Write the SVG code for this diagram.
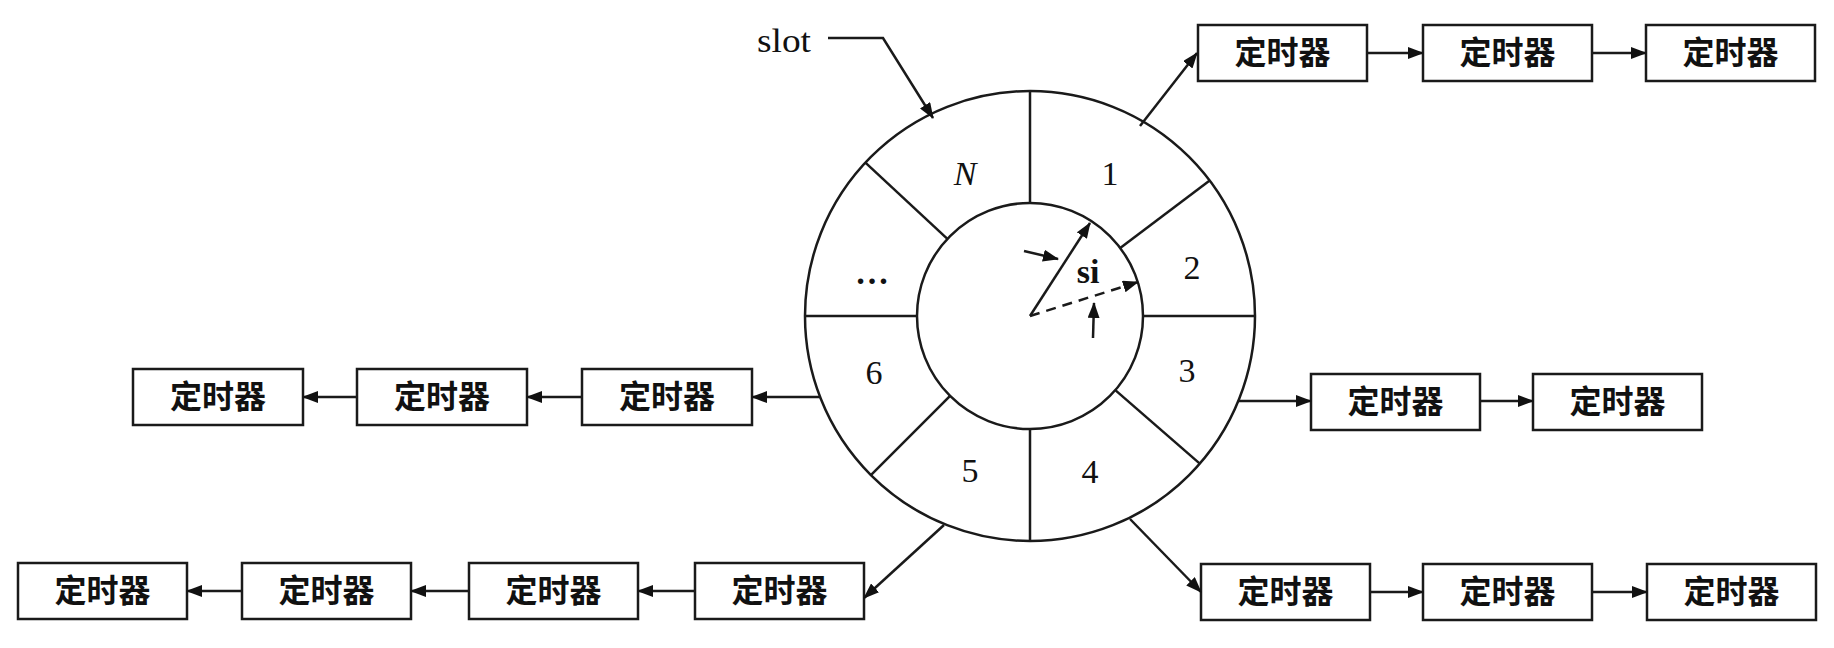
<svg xmlns="http://www.w3.org/2000/svg" width="1834" height="648" viewBox="0 0 1834 648">
<style>
.ln{stroke:#1a1a1a;stroke-width:2.5;fill:none}
.box{stroke:#1a1a1a;stroke-width:2.5;fill:#fff}
.bt{font-family:"Noto Sans CJK SC","Noto Sans",sans-serif;font-weight:bold;font-size:32px;fill:#111;text-anchor:middle}
.num{font-family:"Liberation Serif",serif;font-size:34px;fill:#111;text-anchor:middle}
.ar{stroke:#1a1a1a;stroke-width:2.5;fill:none;marker-end:url(#ah)}
</style>
<defs>
<marker id="ah" markerUnits="userSpaceOnUse" markerWidth="16" markerHeight="12" refX="15" refY="6" orient="auto">
<path d="M0,0 L16,6 L0,12 Z" fill="#111"/>
</marker>
</defs>
<rect width="1834" height="648" fill="#fff"/>
<g id="wheel">
<circle class="ln" cx="1030" cy="316" r="225"/>
<circle class="ln" cx="1030" cy="316" r="113"/>
<line class="ln" x1="1030" y1="91" x2="1030" y2="203"/>
<line class="ln" x1="1030" y1="429" x2="1030" y2="541"/>
<line class="ln" x1="805" y1="316" x2="917" y2="316"/>
<line class="ln" x1="1143" y1="316" x2="1255" y2="316"/>
<line class="ln" x1="947.4" y1="238.9" x2="865.4" y2="162.6"/>
<line class="ln" x1="1120.2" y1="248" x2="1209.7" y2="180.6"/>
<line class="ln" x1="1115.3" y1="390.1" x2="1199.8" y2="463.6"/>
<line class="ln" x1="950.1" y1="395.9" x2="870.9" y2="475.1"/>
<text class="num" x="965" y="185" font-style="italic">N</text>
<text class="num" x="1110" y="185">1</text>
<text class="num" x="872" y="284" font-weight="bold">…</text>
<text class="num" x="1192" y="279">2</text>
<text class="num" x="1187" y="382">3</text>
<text class="num" x="1090" y="483">4</text>
<text class="num" x="970" y="482">5</text>
<text class="num" x="874" y="384">6</text>
<text class="num" x="1088" y="283" font-weight="bold" font-size="30">si</text>
<text x="757" y="52" font-family="Liberation Serif, serif" font-size="33" fill="#111" textLength="54" lengthAdjust="spacingAndGlyphs">slot</text>
</g>
<g id="b1"><rect class="box" x="1198" y="25" width="169" height="56"/><text class="bt" x="1282.5" y="64">定时器</text></g>
<g id="b2"><rect class="box" x="1423" y="25" width="169" height="56"/><text class="bt" x="1507.5" y="64">定时器</text></g>
<g id="b3"><rect class="box" x="1646" y="25" width="169" height="56"/><text class="bt" x="1730.5" y="64">定时器</text></g>
<g id="b4"><rect class="box" x="1311" y="374" width="169" height="56"/><text class="bt" x="1395.5" y="413">定时器</text></g>
<g id="b5"><rect class="box" x="1533" y="374" width="169" height="56"/><text class="bt" x="1617.5" y="413">定时器</text></g>
<g id="b6"><rect class="box" x="1201" y="564" width="169" height="56"/><text class="bt" x="1285.5" y="603">定时器</text></g>
<g id="b7"><rect class="box" x="1423" y="564" width="169" height="56"/><text class="bt" x="1507.5" y="603">定时器</text></g>
<g id="b8"><rect class="box" x="1647" y="564" width="169" height="56"/><text class="bt" x="1731.5" y="603">定时器</text></g>
<g id="b9"><rect class="box" x="133" y="369" width="170" height="56"/><text class="bt" x="218" y="408">定时器</text></g>
<g id="b10"><rect class="box" x="357" y="369" width="170" height="56"/><text class="bt" x="442" y="408">定时器</text></g>
<g id="b11"><rect class="box" x="582" y="369" width="170" height="56"/><text class="bt" x="667" y="408">定时器</text></g>
<g id="b12"><rect class="box" x="18" y="563" width="169" height="56"/><text class="bt" x="102.5" y="602">定时器</text></g>
<g id="b13"><rect class="box" x="242" y="563" width="169" height="56"/><text class="bt" x="326.5" y="602">定时器</text></g>
<g id="b14"><rect class="box" x="469" y="563" width="169" height="56"/><text class="bt" x="553.5" y="602">定时器</text></g>
<g id="b15"><rect class="box" x="695" y="563" width="169" height="56"/><text class="bt" x="779.5" y="602">定时器</text></g>
<g id="connectors">
<polyline class="ar" points="828,38 883,38 933,118"/>
<line class="ar" x1="1030" y1="316" x2="1090" y2="223"/>
<line class="ar" x1="1030" y1="316" x2="1138" y2="282" stroke-dasharray="10,7"/>
<line class="ar" x1="1024" y1="251" x2="1058" y2="259"/>
<line class="ar" x1="1093" y1="338" x2="1094" y2="303"/>
<line class="ar" x1="1140" y1="126" x2="1197" y2="53"/>
<line class="ar" x1="1367" y1="53" x2="1423" y2="53"/>
<line class="ar" x1="1592" y1="53" x2="1646" y2="53"/>
<line class="ar" x1="1239" y1="401" x2="1311" y2="401"/>
<line class="ar" x1="1480" y1="401" x2="1533" y2="401"/>
<line class="ar" x1="1130" y1="519" x2="1201" y2="592"/>
<line class="ar" x1="1370" y1="592" x2="1423" y2="592"/>
<line class="ar" x1="1592" y1="592" x2="1647" y2="592"/>
<line class="ar" x1="820" y1="397" x2="752" y2="397"/>
<line class="ar" x1="582" y1="397" x2="527" y2="397"/>
<line class="ar" x1="357" y1="397" x2="303" y2="397"/>
<line class="ar" x1="944" y1="525" x2="864" y2="598"/>
<line class="ar" x1="695" y1="591" x2="638" y2="591"/>
<line class="ar" x1="469" y1="591" x2="411" y2="591"/>
<line class="ar" x1="242" y1="591" x2="187" y2="591"/>
</g>
</svg>
